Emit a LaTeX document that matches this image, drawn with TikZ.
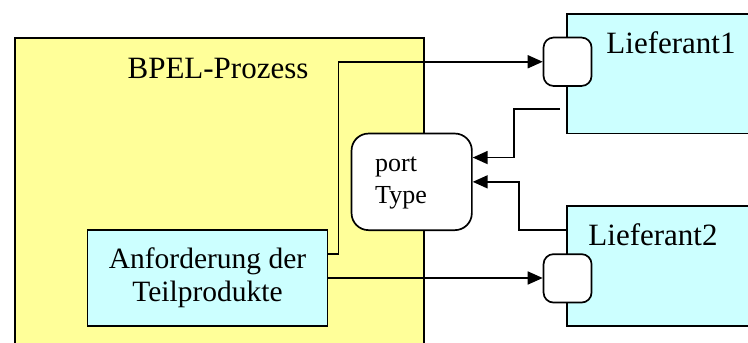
\documentclass[tikz,border=0pt]{standalone}
\usepackage{fontspec}
\setmainfont{Liberation Serif}
\usetikzlibrary{arrows.meta}
\definecolor{procyellow}{RGB}{255,255,153}
\definecolor{partcyan}{RGB}{204,255,255}
\begin{document}
\begin{tikzpicture}[x=1pt,y=-1pt,
  box/.style={draw=black, line width=1.7pt, inner sep=0pt, anchor=north west},
  partner/.style={box, fill=partcyan},
  portbox/.style={box, fill=white, rounded corners=10pt, minimum width=48pt, minimum height=48.4pt},
  conn/.style={line width=1.7pt, -{Triangle[length=15pt,width=13pt]}},
  bigtext/.style={font=\fontsize{31}{36}\selectfont, inner sep=0pt},
]
\useasboundingbox (0,0) rectangle (748,343);
\clip (0,0) rectangle (748,343);

% process container and partner services
\node[box, fill=procyellow, minimum width=409pt, minimum height=340pt] (proc) at (14,37) {};
\node[partner, minimum width=200pt, minimum height=119.4pt] (lief1) at (566,13.3) {};
\node[partner, minimum width=200pt, minimum height=120pt] (lief2) at (566,205) {};

% activity inside the process
\node[partner, minimum width=240pt, minimum height=95.7pt, align=center,
      font=\fontsize{29.5}{33}\selectfont] (req) at (86.7,229.3)
      {Anforderung der\\Teilprodukte};

% port type and partner ports
\node[box, fill=white, rounded corners=17pt, minimum width=120.3pt, minimum height=96.6pt] (pt) at (350.7,132.7) {};
\node[portbox] (port1) at (542.7,36.7) {};
\node[portbox] (port2) at (542.7,253.3) {};

% labels
\node[bigtext, anchor=base] (proclbl) at (218,78.3) {BPEL-Prozess};
\node[bigtext, anchor=base] (lief1lbl) at (671,53.3) {Lieferant1};
\node[bigtext, anchor=base] (lief2lbl) at (653,245.7) {Lieferant2};
\node[inner sep=0pt, anchor=base west, align=left,
      font=\fontsize{26}{31.6}\selectfont] (ptlbl) at (375,203.3) {port\\Type};

% connectors
\coordinate (l1out) at ([xshift=-6pt,yshift=-35.3pt]lief1.west);
\draw[conn] ([yshift=24pt]req.east) -- ++(10,0) |- (port1.west);
\draw[conn] (req.east) -- (req.east -| port2.west);
\draw[conn] (l1out) -- ++(-45.7,0) |- ([yshift=24.3pt]pt.east);
\draw[conn] ([yshift=35.7pt]lief2.west) -- ++(-47,0) |- (pt.east);
\end{tikzpicture}
\end{document}
